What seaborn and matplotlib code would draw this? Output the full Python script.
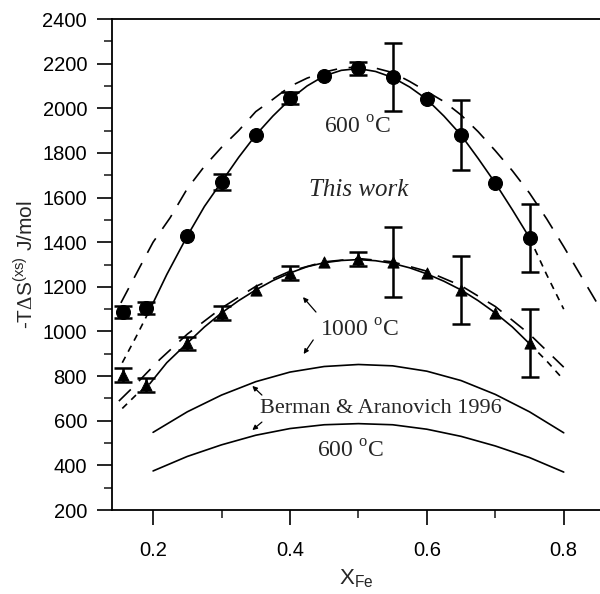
import numpy as np
import pandas as pd
import matplotlib
matplotlib.use("Agg")
import matplotlib.pyplot as plt
import seaborn as sns

# measured points (circles: 600 C, triangles: 1000 C)
x_pts = [0.156, 0.19, 0.25, 0.30, 0.35, 0.40, 0.45, 0.50, 0.55, 0.60, 0.65, 0.70, 0.75]
s600 = [1087, 1105, 1428, 1670, 1880, 2046, 2145, 2180, 2140, 2041, 1880, 1665, 1419]
err600 = [27, 25, 0, 34, 0, 29, 0, 29, 152, 0, 157, 0, 152]
s1000 = [805, 760, 948, 1083, 1186, 1262, 1311, 1325, 1311, 1262, 1186, 1083, 948]
err1000 = [31, 33, 29, 31, 0, 31, 0, 31, 155, 0, 152, 0, 152]

# fitted curves (solid) and their extrapolations (short dash)
fit_x = [0.195, 0.22, 0.25, 0.275, 0.30, 0.325, 0.35, 0.375, 0.40, 0.425, 0.45, 0.475,
         0.50, 0.525, 0.55, 0.575, 0.60, 0.625, 0.65, 0.675, 0.70, 0.725, 0.75]
fit600 = [1096, 1255, 1428, 1560, 1670, 1780, 1880, 1965, 2040, 2100, 2145, 2170,
          2178, 2165, 2138, 2095, 2040, 1965, 1880, 1775, 1665, 1545, 1420]
fit1000 = [765, 860, 948, 1020, 1083, 1138, 1186, 1228, 1262, 1290, 1308, 1318,
           1322, 1317, 1305, 1285, 1258, 1225, 1186, 1138, 1083, 1020, 945]
ext_left_x = [0.155, 0.175, 0.195]
ext600_left = [860, 975, 1096]
ext1000_left = [655, 715, 765]
ext_right_x = [0.75, 0.775, 0.80]
ext600_right = [1420, 1255, 1100]
ext1000_right = [945, 868, 783]

# other model (long dash)
mod600_x = [0.153, 0.18, 0.20, 0.225, 0.25, 0.275, 0.30, 0.325, 0.35, 0.375, 0.40, 0.425,
            0.45, 0.475, 0.50, 0.525, 0.55, 0.575, 0.60, 0.625, 0.65, 0.675, 0.70, 0.725,
            0.75, 0.775, 0.80, 0.825, 0.853]
mod600 = [1128, 1285, 1400, 1510, 1640, 1740, 1825, 1900, 1985, 2040, 2098, 2135,
          2162, 2180, 2185, 2180, 2160, 2120, 2075, 2030, 1970, 1895, 1810, 1720,
          1620, 1505, 1380, 1250, 1105]
mod1000_x = [0.15, 0.17, 0.19, 0.21, 0.25, 0.30, 0.35, 0.40, 0.45, 0.50, 0.55, 0.60,
             0.65, 0.70, 0.75, 0.80]
mod1000 = [688, 748, 812, 875, 988, 1105, 1202, 1270, 1312, 1327, 1312, 1270,
           1205, 1112, 988, 840]

# Berman & Aranovich 1996
ba_x = [0.2, 0.25, 0.3, 0.35, 0.4, 0.45, 0.5, 0.55, 0.6, 0.65, 0.7, 0.75, 0.8]
ba1000 = [548, 640, 715, 775, 818, 843, 852, 846, 822, 780, 718, 640, 546]
ba600 = [375, 440, 492, 535, 565, 582, 587, 582, 562, 530, 487, 435, 370]

sns.set_style("ticks")
plt.rcParams['font.family'] = ['Liberation Sans', 'DejaVu Sans']
plt.rcParams['mathtext.fontset'] = 'custom'
plt.rcParams['mathtext.rm'] = 'Liberation Serif'
plt.rcParams['mathtext.sf'] = 'Liberation Sans'

fig, ax = plt.subplots(figsize=(6, 5.94), dpi=100)
fig.subplots_adjust(left=0.1867, right=1.0, bottom=0.1414, top=0.968)

long_dash = (0, (10, 7))
short_dash = (0, (4, 3.5))

def line(x, y, ls='-'):
    sns.lineplot(x=x, y=y, ax=ax, color='k', lw=1.2, sort=False, estimator=None,
                 linestyle=ls)

line(fit_x, fit600)
line(fit_x, fit1000)
line(ext_left_x, ext600_left, short_dash)
line(ext_right_x, ext600_right, short_dash)
line(ext_left_x, ext1000_left, short_dash)
line(ext_right_x, ext1000_right, short_dash)
line(mod600_x, mod600, long_dash)
line(mod1000_x, mod1000, long_dash)
line(ba_x, ba1000)
line(ba_x, ba600)

pts = pd.DataFrame({'x': x_pts, 's600': s600, 'e600': err600,
                    's1000': s1000, 'e1000': err1000})
for col, ecol in [('s600', 'e600'), ('s1000', 'e1000')]:
    sub = pts[pts[ecol] > 0]
    ax.errorbar(sub['x'], sub[col], yerr=sub[ecol], fmt='none', ecolor='k',
                elinewidth=1.8, capsize=6.5, capthick=1.8, zorder=3)

sns.scatterplot(data=pts, x='x', y='s600', ax=ax, marker='o', s=100, color='k',
                edgecolor='k', zorder=4)
sns.scatterplot(data=pts, x='x', y='s1000', ax=ax, marker='^', s=65, color='k',
                edgecolor='k', zorder=4)

serif = ['Liberation Serif', 'DejaVu Serif']
ax.text(0.498, 1912, r"600 $^{\mathrm{o}}$C", fontsize=17, family=serif, ha='center', va='center')
ax.text(0.501, 1634, "This work", fontsize=18, family=serif, style='italic', ha='center', va='center')
ax.text(0.502, 1002, r"1000 $^{\mathrm{o}}$C", fontsize=17, family=serif, ha='center', va='center')
ax.text(0.533, 657, "Berman & Aranovich 1996", fontsize=16, family=serif, ha='center', va='center')
ax.text(0.488, 460, r"600 $^{\mathrm{o}}$C", fontsize=17, family=serif, ha='center', va='center')

arrows = [((0.438, 1087), (0.419, 1154)), ((0.434, 962), (0.420, 899)),
          ((0.359, 715), (0.345, 756)), ((0.359, 594), (0.345, 558))]
for tail, head in arrows:
    ax.annotate("", xy=head, xytext=tail,
                arrowprops=dict(arrowstyle='-|>', lw=0.9, color='k', mutation_scale=7,
                                shrinkA=0, shrinkB=0))

ax.set_xlim(0.140, 0.853)
ax.set_ylim(200, 2400)
ax.set_xticks([0.2, 0.4, 0.6, 0.8])
ax.set_xticks([0.3, 0.5, 0.7], minor=True)
ax.set_yticks(np.arange(200, 2401, 200))
ax.set_yticks(np.arange(300, 2400, 200), minor=True)
ax.tick_params(which='major', direction='out', length=11, width=1.2, labelsize=14.5, colors='k')
ax.tick_params(which='minor', direction='out', length=5.5, width=1.2)
ax.tick_params(axis='y', which='major', pad=7)
ax.tick_params(axis='x', which='major', pad=11)

for side in ['left', 'bottom', 'top']:
    ax.spines[side].set_linewidth(1.3)
    ax.spines[side].set_color('k')
ax.spines['right'].set_visible(False)

ax.set_xlabel(r"X$_{\mathsf{Fe}}$", fontsize=16, labelpad=6)
ax.set_ylabel(r"-T$\Delta$S$^{\mathsf{(xs)}}$ J/mol", fontsize=15, labelpad=4)

plt.savefig("out.png", dpi=100)
